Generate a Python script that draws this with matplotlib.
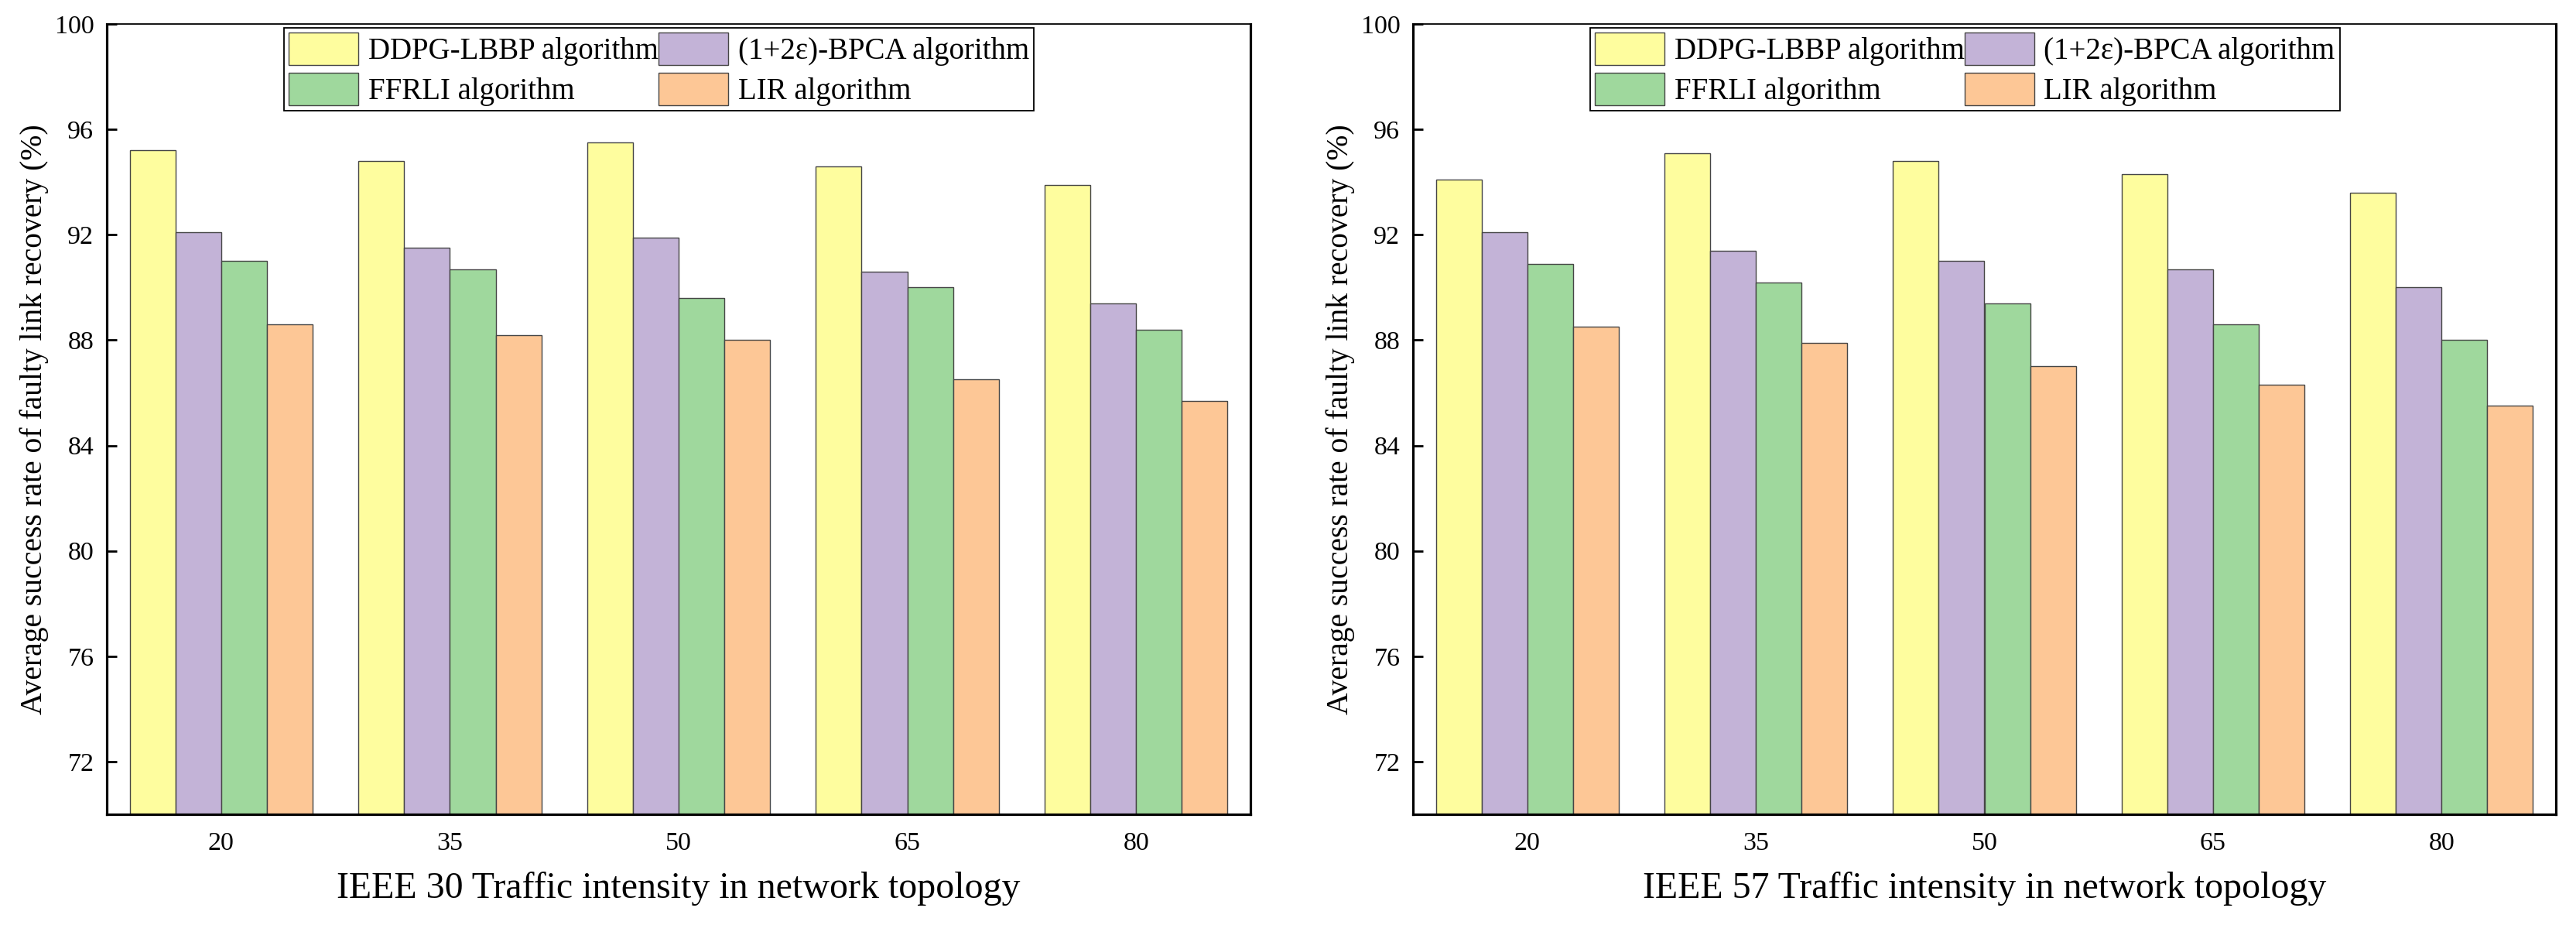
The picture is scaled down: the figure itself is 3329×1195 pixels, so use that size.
import matplotlib
matplotlib.use("Agg")
import matplotlib.pyplot as plt
import numpy as np

plt.rcParams['font.family'] = ['Liberation Serif', 'DejaVu Serif']

categories = ['20', '35', '50', '65', '80']
series_names = ['DDPG-LBBP algorithm', '(1+2ε)-BPCA algorithm',
                'FFRLI algorithm', 'LIR algorithm']
colors = ['#FEFD9E', '#C3B3D7', '#9FD89D', '#FDC796']

ieee30_ddpg = [95.2, 94.8, 95.5, 94.6, 93.9]
ieee30_bpca = [92.1, 91.5, 91.9, 90.6, 89.4]
ieee30_ffrli = [91.0, 90.7, 89.6, 90.0, 88.4]
ieee30_lir = [88.6, 88.2, 88.0, 86.5, 85.7]

ieee57_ddpg = [94.1, 95.1, 94.8, 94.3, 93.6]
ieee57_bpca = [92.1, 91.4, 91.0, 90.7, 90.0]
ieee57_ffrli = [90.9, 90.2, 89.4, 88.6, 88.0]
ieee57_lir = [88.5, 87.9, 87.0, 86.3, 85.5]

xlabels = ['IEEE 30 Traffic intensity in network topology',
           'IEEE 57 Traffic intensity in network topology']
ylabel = 'Average success rate of faulty link recovery (%)'
yticks = [72, 76, 80, 84, 88, 92, 96, 100]

W, H = 3330, 1195
fig = plt.figure(figsize=(W / 100, H / 100), dpi=100)

ax_bottom = 1 - 1052 / H
ax_height = 1021 / H
axes = [fig.add_axes([138 / W, ax_bottom, 1478 / W, ax_height]),
        fig.add_axes([1826 / W, ax_bottom, 1477 / W, ax_height])]

data = [[ieee30_ddpg, ieee30_bpca, ieee30_ffrli, ieee30_lir],
        [ieee57_ddpg, ieee57_bpca, ieee57_ffrli, ieee57_lir]]

x = np.arange(len(categories))
bw = 0.2
for ax, series, xl in zip(axes, data, xlabels):
    handles = []
    for i, (vals, name, c) in enumerate(zip(series, series_names, colors)):
        b = ax.bar(x + (i - 1.5) * bw, vals, width=bw, color=c,
                   edgecolor='#454545', linewidth=1.0, label=name, zorder=2)
        handles.append(b)
    ax.set_xlim(-0.5, len(categories) - 0.5)
    ax.set_ylim(70, 100)
    ax.set_xticks(x)
    ax.set_xticklabels(categories)
    ax.set_yticks(yticks)
    ax.tick_params(axis='y', direction='in', length=9.5, width=2.0,
                   labelsize=24.5, pad=12)
    ax.tick_params(axis='x', direction='in', length=9.5, width=1.5,
                   labelsize=24.5, pad=16.5)
    for s in ['left', 'bottom', 'right']:
        ax.spines[s].set_linewidth(2.3)
    ax.spines['top'].set_linewidth(1.3)
    ax.set_xlabel(xl, fontsize=34.5)
    ax.xaxis.label.set_va('baseline')
    ax.xaxis.set_label_coords(0.5, (1052 - 1160) / 1021)
    ax.set_ylabel(ylabel, fontsize=28.5)
    ax.yaxis.set_label_coords((63 - 138) / 1478, 0.5)
    order = [0, 2, 1, 3]
    leg = ax.legend([handles[k] for k in order],
                    [series_names[k] for k in order],
                    ncol=2, loc='upper left',
                    bbox_to_anchor=((367 - 138) / 1478, 1 - 5 / 1021),
                    borderaxespad=0, fontsize=28, frameon=True,
                    fancybox=False, edgecolor='black', framealpha=1,
                    handlelength=2.31, handleheight=1.28, handletextpad=0.33,
                    columnspacing=0.0, borderpad=0.16, labelspacing=0.22)
    leg.get_frame().set_linewidth(1.3)

fig.savefig('out.png', dpi=100)
